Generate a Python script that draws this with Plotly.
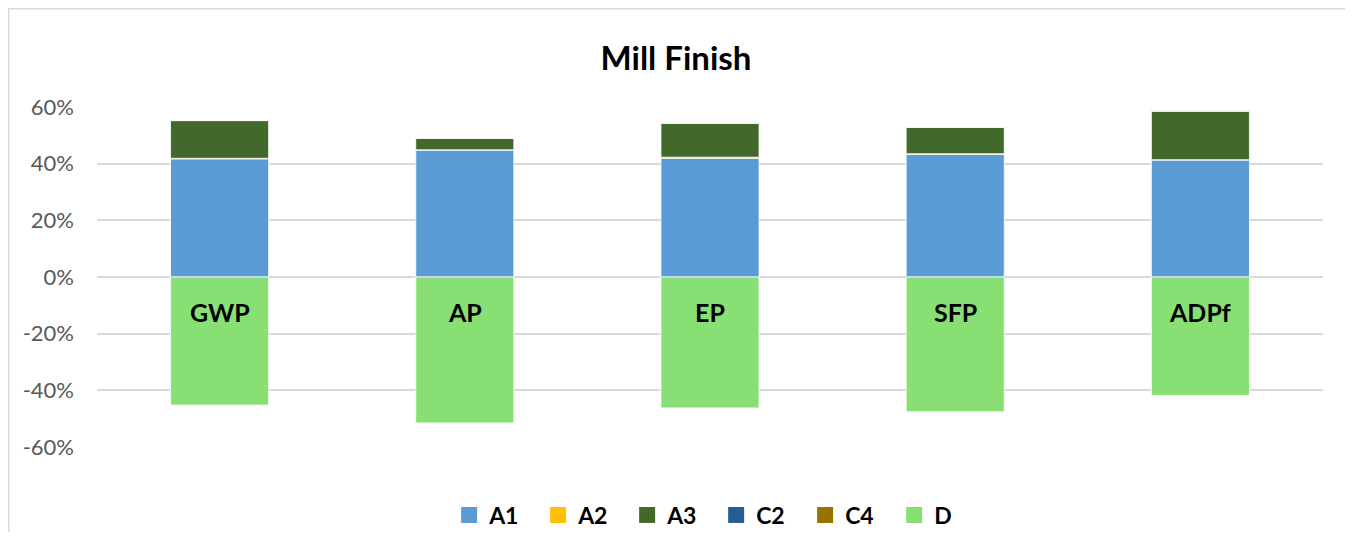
import plotly.graph_objects as go

categories = ["GWP", "AP", "EP", "SFP", "ADPf"]
a1 = [0.417, 0.448, 0.419, 0.433, 0.413]
a2 = [0.002, 0.001, 0.004, 0.002, 0.001]
a3 = [0.133, 0.040, 0.120, 0.093, 0.170]
c2 = [0.0005, 0.0005, 0.0005, 0.0005, 0.0005]
c4 = [0.001, 0.001, 0.001, 0.001, 0.003]
d = [-0.452, -0.515, -0.462, -0.476, -0.418]
tick_vals = [-0.6, -0.4, -0.2, 0, 0.2, 0.4, 0.6]
tick_text = ["-60%", "-40%", "-20%", "0%", "20%", "40%", "60%"]

series = [
    ("A1", a1, "#5B9BD5"),
    ("A2", a2, "#FFC000"),
    ("A3", a3, "#43682B"),
    ("C2", c2, "#255E91"),
    ("C4", c4, "#997300"),
    ("D", d, "#88E074"),
]

# page puts the figure 8px in from the top-left corner
W, H = 1345, 524
ML, MT, PW, PH = 89, 99, 1226, 340

fig = go.Figure()
for name, vals, col in series:
    fig.add_bar(
        x=categories,
        y=vals,
        name=name,
        marker_color=col,
        marker_line=dict(color="white", width=0.8),
        showlegend=False,
    )
    # legend proxy with larger square symbol
    fig.add_scatter(
        x=[None],
        y=[None],
        name=name,
        mode="markers",
        marker=dict(symbol="square", size=16, color=col),
    )

for cat in categories:
    fig.add_annotation(
        x=cat, y=0, text="<b>%s</b>" % cat, showarrow=False,
        yanchor="middle", yshift=-35,
        font=dict(size=25, color="black", family="Lato"),
    )

fig.update_layout(
    width=W,
    height=H,
    barmode="relative",
    bargap=0.6,
    margin=dict(l=ML, r=W - ML - PW, t=MT, b=H - MT - PH, autoexpand=False),
    plot_bgcolor="white",
    paper_bgcolor="white",
    font=dict(family="Lato", color="#595959", size=22),
    title=dict(
        text="<b>Mill Finish</b>",
        x=668 / W, xanchor="center",
        y=1 - 50 / H, yanchor="middle",
        font=dict(size=33, color="black", family="Lato"),
    ),
    xaxis=dict(showticklabels=False, showgrid=False, zeroline=False, showline=False),
    yaxis=dict(
        range=[-0.6, 0.6],
        tickvals=tick_vals,
        ticktext=tick_text,
        gridcolor="#D9D9D9",
        gridwidth=1.5,
        zeroline=False,
        showline=False,
        ticks="",
        ticklabelstandoff=22,
    ),
    legend=dict(
        orientation="h",
        x=0.505, xanchor="center",
        y=-0.2, yanchor="middle",
        font=dict(size=23, color="black", family="Lato", weight="bold"),
        entrywidth=44,
    ),
    shapes=[
        dict(type="rect", xref="paper", yref="paper",
             x0=(0.75 - ML) / PW, x1=(1343 - ML) / PW,
             y0=-0.5, y1=(MT + PH - 0.75) / PH,
             line=dict(color="#D9D9D9", width=1.5), layer="below"),
    ],
)

fig.write_html("out.html")
